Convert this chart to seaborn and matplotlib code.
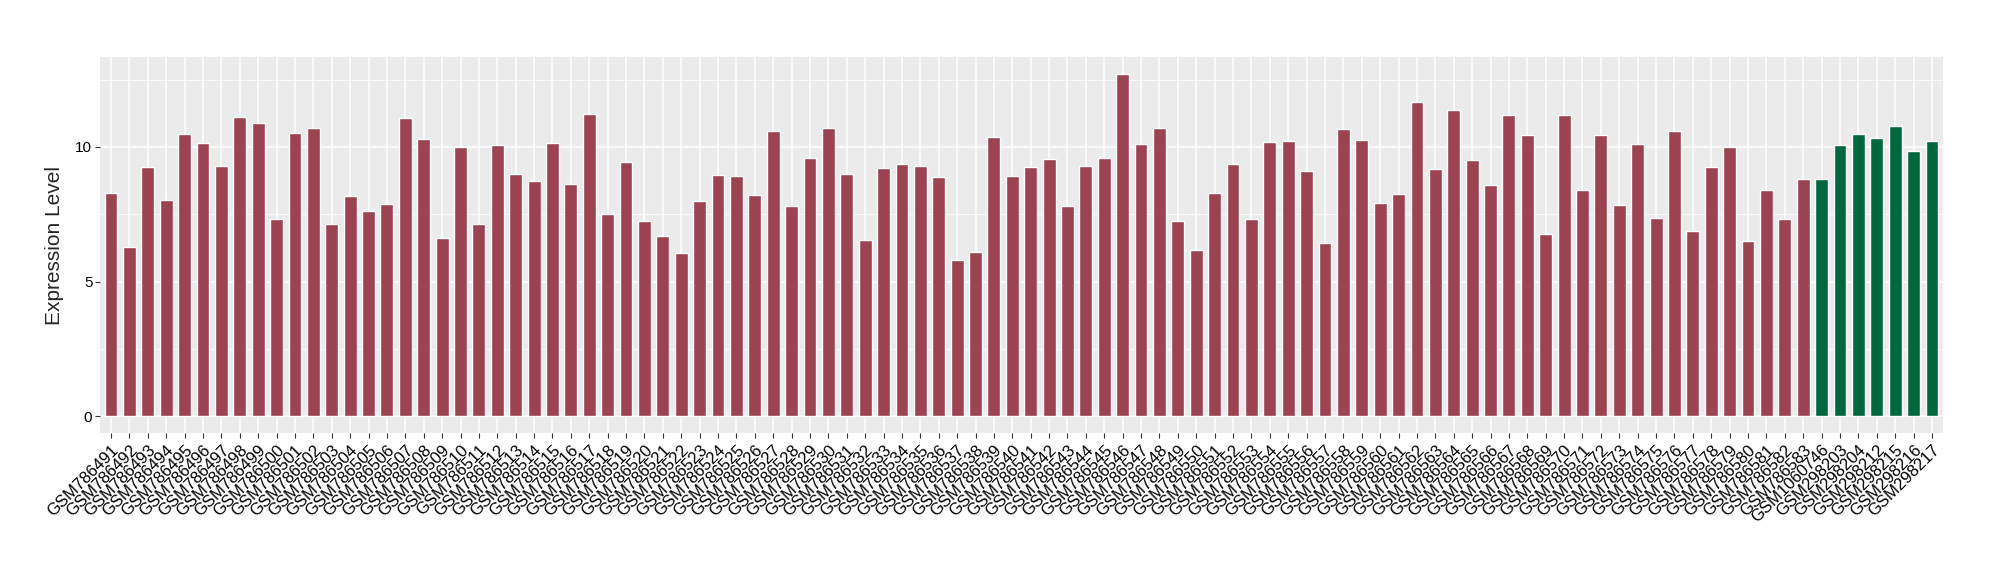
import matplotlib
matplotlib.use("Agg")
import matplotlib.pyplot as plt
import seaborn as sns
import pandas as pd
from matplotlib.ticker import MultipleLocator

# samples, left to right
red_samples = [f"GSM{n}" for n in range(786491, 786584)]
green_samples = ["GSM1060746", "GSM298203", "GSM298204", "GSM298212",
                 "GSM298215", "GSM298216", "GSM298217"]

red_values = [
    8.29, 6.28, 9.26, 8.03, 10.48, 10.15, 9.29, 11.12, 10.89, 7.32,
    10.52, 10.71, 7.14, 8.18, 7.62, 7.88, 11.08, 10.30, 6.62, 10.00,
    7.14, 10.07, 9.00, 8.74, 10.15, 8.62, 11.23, 7.51, 9.44, 7.25,
    6.69, 6.06, 7.99, 8.96, 8.92, 8.22, 10.59, 7.81, 9.59, 10.71,
    9.00, 6.54, 9.22, 9.37, 9.29, 8.88, 5.80, 6.10, 10.37, 8.92,
    9.26, 9.55, 7.81, 9.29, 9.59, 12.71, 10.11, 10.71, 7.25, 6.17,
    8.29, 9.37, 7.32, 10.19, 10.22, 9.11, 6.43, 10.67, 10.26, 7.92,
    8.25, 11.67, 9.18, 11.38, 9.52, 8.59, 11.19, 10.45, 6.77, 11.19,
    8.40, 10.45, 7.84, 10.11, 7.36, 10.59, 6.88, 9.26, 10.00, 6.51,
    8.40, 7.32, 8.81,
]
green_values = [8.81, 10.07, 10.48, 10.33, 10.78, 9.85, 10.22]

RED = "#9B4351"
GREEN = "#00673F"

df = pd.DataFrame({
    "sample": red_samples + green_samples,
    "value": red_values + green_values,
    "group": ["a"] * len(red_samples) + ["b"] * len(green_samples),
})

sns.set_theme(style="darkgrid", rc={
    "axes.facecolor": "#EBEBEB",
    "grid.color": "white",
    "axes.edgecolor": "#EBEBEB",
})
plt.rcParams["font.family"] = ["Liberation Sans", "DejaVu Sans"]

fig, ax = plt.subplots(figsize=(20, 5.8), dpi=100)
fig.subplots_adjust(left=0.05, right=0.9715, top=0.902, bottom=0.253)

sns.barplot(data=df, x="sample", y="value", hue="group",
            palette={"a": RED, "b": GREEN}, width=0.7, dodge=False,
            legend=False, saturation=1, ax=ax, zorder=3)

n = len(df)
ax.set_xlim(-0.6, n - 1 + 0.6)
top = max(df["value"])
ax.set_ylim(-0.05 * top, top * 1.05)
ax.yaxis.set_major_locator(MultipleLocator(5))
ax.yaxis.set_minor_locator(MultipleLocator(2.5))
ax.grid(which="major", color="white", linewidth=1.1, zorder=0)
ax.grid(which="minor", axis="y", color="white", linewidth=0.55, zorder=0)
ax.set_axisbelow(True)
for s in ax.spines.values():
    s.set_visible(False)

ax.tick_params(axis="both", which="major", length=3.5, width=0.8,
               color="#333333", bottom=True, left=True)
ax.tick_params(axis="y", which="minor", length=0)
ax.tick_params(axis="x", labelsize=12, pad=3)
ax.tick_params(axis="y", labelsize=11, pad=2)
plt.setp(ax.get_xticklabels(), rotation=45, ha="right",
         rotation_mode="anchor", color="black")
plt.setp(ax.get_yticklabels(), color="black")

ax.set_xlabel("")
ax.set_ylabel("Expression Level", fontsize=15, labelpad=8)

fig.savefig("out.png", dpi=100)
